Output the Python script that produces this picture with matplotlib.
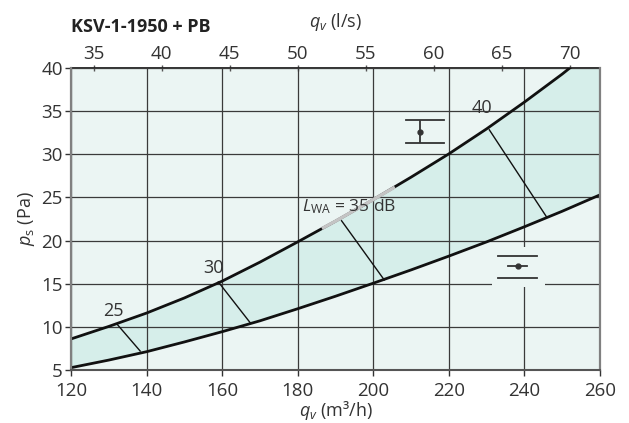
import matplotlib
matplotlib.use('Agg')
import matplotlib.pyplot as plt
from matplotlib.patches import Rectangle

plt.rcParams['font.family'] = ['Open Sans', 'DejaVu Sans']
plt.rcParams['mathtext.fontset'] = 'custom'
plt.rcParams['mathtext.rm'] = 'Open Sans'
plt.rcParams['mathtext.it'] = 'Open Sans:italic'

# kurvor läst ur diagrammet (qv i m3/h, ps i Pa)
q_upper = [120, 130, 140, 150, 160, 170, 180, 190, 200, 210, 220, 230, 240, 250, 252, 260]
p_upper = [8.6, 10.05, 11.6, 13.35, 15.3, 17.5, 19.85, 22.25, 24.75, 27.35, 30.05, 32.95, 36.05, 39.3, 40.0, 42.6]
q_lower = [120, 130, 140, 150, 160, 170, 180, 190, 200, 210, 220, 230, 240, 250, 260]
p_lower = [5.27, 6.15, 7.12, 8.25, 9.44, 10.7, 12.1, 13.55, 15.06, 16.6, 18.2, 19.85, 21.6, 23.4, 25.3]

# grå del av övre kurvan bakom texten
q_grey = [186.4, 190, 200, 205.7]
p_grey = [21.4, 22.25, 24.75, 26.2]

# ljudnivålinjer LWA
db_labels = ['25', '30', '35', '40']
db_q = [(132.2, 138.3), (159.0, 167.4), (191.6, 202.9), (230.7, 245.8)]
db_p = [(10.3, 7.2), (15.2, 10.49), (22.3, 15.44), (32.84, 22.78)]
db_text_q = [131.2, 157.6, None, 228.8]
db_text_p = [11.8, 16.8, None, 35.4]

xticks = [120, 140, 160, 180, 200, 220, 240, 260]
yticks = [5, 10, 15, 20, 25, 30, 35, 40]
top_ticks = [35, 40, 45, 50, 55, 60, 65, 70]

bg = '#EBF5F3'
band = '#D6EEEA'
txt = '#333333'

fig = plt.figure(figsize=(6.29, 4.23), dpi=100)
ax = fig.add_axes([0.1129, 0.1253, 0.841, 0.7139])
ax.set_facecolor(bg)
ax.set_xlim(120, 260)
ax.set_ylim(5, 40)

upper_at_lower = [p_upper[q_upper.index(q)] for q in q_lower]
ax.fill_between(q_lower, p_lower, upper_at_lower, color=band, lw=0, zorder=0.3)

ax.set_axisbelow(True)
ax.grid(True, color='#3a3a3a', lw=0.9)

# bakgrundsruta bakom nedre symbolen
ax.add_patch(Rectangle((231.4, 14.63), 14.0, 4.64, facecolor=bg, edgecolor='none', zorder=0.6))

ax.plot(q_upper, p_upper, color='#111111', lw=2.0, zorder=2, solid_capstyle='butt')
ax.plot(q_grey, p_grey, color='#c4c4c4', lw=2.4, zorder=2.1, solid_capstyle='butt')
ax.plot(q_lower, p_lower, color='#111111', lw=2.0, zorder=2)

for lab, qq, pp, tq, tp in zip(db_labels, db_q, db_p, db_text_q, db_text_p):
    ax.plot(qq, pp, color='#111111', lw=1.0, zorder=2)
    if tq is not None:
        ax.text(tq, tp, lab, fontsize=13, color=txt, ha='center', va='center', zorder=3)
ax.text(181.0, 23.9, r'$L_{\mathrm{WA}}$ = 35 dB', fontsize=12.5, color=txt,
        ha='left', va='center', zorder=3)

# symboler
sym = '#333333'
ax.plot([208.7, 218.8], [34.0, 34.0], color=sym, lw=1.3, zorder=3)
ax.plot([208.7, 218.8], [31.33, 31.33], color=sym, lw=1.3, zorder=3)
ax.plot([212.3, 212.3], [33.9, 31.45], color=sym, lw=1.3, zorder=3)
ax.plot([212.3], [32.6], 'o', color=sym, ms=3.5, zorder=3)
ax.plot([233.0, 243.3], [18.26, 18.26], color=sym, lw=1.3, zorder=3)
ax.plot([233.0, 243.3], [15.67, 15.67], color=sym, lw=1.3, zorder=3)
ax.plot([235.7, 240.8], [17.0, 17.0], color=sym, lw=1.3, zorder=3)
ax.plot([238.3], [17.0], 'o', color=sym, ms=3.5, zorder=3)

ax.set_xticks(xticks)
ax.set_yticks(yticks)
ax.tick_params(axis='both', labelsize=13.5, labelcolor=txt, color='#333333',
               length=4, width=1, pad=2)
ax.tick_params(axis='x', pad=5)
ax.spines['left'].set_color('#808080')
ax.spines['left'].set_linewidth(1.6)
ax.spines['right'].set_color('#808080')
ax.spines['right'].set_linewidth(1.6)
ax.spines['bottom'].set_color('#555555')
ax.spines['bottom'].set_linewidth(1.5)
ax.spines['top'].set_visible(False)

sec = ax.secondary_xaxis('top', functions=(lambda x: x / 3.6, lambda x: x * 3.6))
sec.set_xticks(top_ticks)
sec.tick_params(labelsize=13.5, labelcolor=txt, color='#555555', direction='inout',
                length=5, width=1, pad=1)
sec.spines['top'].set_color('#222222')
sec.spines['top'].set_linewidth(1.3)
sec.set_xlabel(r'$q_v$ (l/s)', fontsize=13, color=txt, labelpad=13)

ax.set_xlabel(r'$q_v$ (m³/h)', fontsize=13, color=txt, labelpad=-1)
ax.set_ylabel(r'$p_{\mathrm{s}}$ (Pa)', fontsize=13, color=txt, labelpad=3)

fig.text(71 / 629, 1 - 26.7 / 423, 'KSV-1-1950 + PB', fontsize=13, fontweight='bold',
         color='#222222', ha='left', va='center')

fig.savefig('out.png', dpi=100)
